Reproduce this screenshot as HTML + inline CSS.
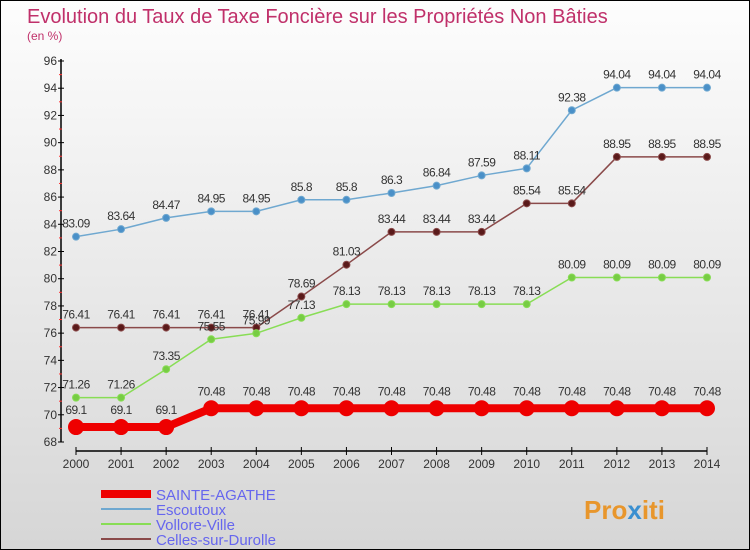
<!DOCTYPE html>
<html><head><meta charset="utf-8"><style>
body{margin:0}
#c{width:750px;height:550px;position:relative;box-sizing:border-box;border:1px solid #000;background:linear-gradient(#fdfdfd,#d6d6d6);font-family:"Liberation Sans",sans-serif;overflow:hidden}
</style></head><body>
<div id="c">
<svg id="s" width="750" height="550" style="position:absolute;left:0;top:0">
<text x="26" y="22" font-size="20" fill="#c0306a">Evolution du Taux de Taxe Foncière sur les Propriétés Non Bâties</text>
<text x="26" y="39" font-size="12" fill="#c0306a">(en %)</text>
<g id="axes"></g><g id="series"></g>
<g>
<line x1="100" y1="493" x2="150" y2="493" stroke="#e00" stroke-width="8"/>
<text x="155" y="499" font-size="15" fill="#6666ee">SAINTE-AGATHE</text>
<line x1="100" y1="508" x2="150" y2="508" stroke="#6fa8d0" stroke-width="2"/>
<text x="155" y="514" font-size="15" fill="#6666ee">Escoutoux</text>
<line x1="100" y1="523" x2="150" y2="523" stroke="#88dd55" stroke-width="2"/>
<text x="155" y="529" font-size="15" fill="#6666ee">Vollore-Ville</text>
<line x1="100" y1="538" x2="150" y2="538" stroke="#8a4a4a" stroke-width="2"/>
<text x="155" y="544" font-size="15" fill="#6666ee">Celles-sur-Durolle</text>
</g>
<text x="583" y="518" font-size="26" font-weight="bold" fill="#e8962c">Pro<tspan fill="#3a8fd0">x</tspan>iti</text>
</svg>
</div>
<script>
const years=[2000,2001,2002,2003,2004,2005,2006,2007,2008,2009,2010,2011,2012,2013,2014];
const yTicks=[68,70,72,74,76,78,80,82,84,86,88,90,92,94,96];
const sainteAgathe=[69.1,69.1,69.1,70.48,70.48,70.48,70.48,70.48,70.48,70.48,70.48,70.48,70.48,70.48,70.48];
const escoutoux=[83.09,83.64,84.47,84.95,84.95,85.8,85.8,86.3,86.84,87.59,88.11,92.38,94.04,94.04,94.04];
const vollore=[71.26,71.26,73.35,75.55,75.99,77.13,78.13,78.13,78.13,78.13,78.13,80.09,80.09,80.09,80.09];
const celles=[76.41,76.41,76.41,76.41,76.41,78.69,81.03,83.44,83.44,83.44,85.54,85.54,88.95,88.95,88.95];
const NS="http://www.w3.org/2000/svg";
const xS=i=>75+i*(706-75)/14;
const yS=v=>441-(v-68)*(441-60)/28;
function mk(t,a,p){const e=document.createElementNS(NS,t);for(const k in a)e.setAttribute(k,a[k]);p.appendChild(e);return e;}
const ax=document.getElementById('axes');
let l=mk('line',{x1:60,y1:58,x2:60,y2:441,stroke:'#000','stroke-width':1.5},ax);


l=mk('line',{x1:75,y1:450,x2:706,y2:450,stroke:'#000','stroke-width':1.5},ax);


yTicks.forEach(v=>{
 mk('line',{x1:57,y1:yS(v),x2:63,y2:yS(v),stroke:'#000'},ax);
 if(v<96)mk('line',{x1:58,y1:yS(v+1),x2:61,y2:yS(v+1),stroke:'#f33'},ax);
 const t=mk('text',{x:56,y:yS(v)+4,'font-size':12,fill:'#333','text-anchor':'end'},ax);t.textContent=v;
 
 
});
years.forEach((y,i)=>{
 mk('line',{x1:xS(i),y1:446,x2:xS(i),y2:454,stroke:'#000'},ax);
 const t=mk('text',{x:xS(i),y:467,'font-size':12,fill:'#333','text-anchor':'middle'},ax);t.textContent=y;
 
 
});
const sg=document.getElementById('series');
function draw(vals,color,w,r,name,dot){
 const g=mk('g',{},sg);
 
 
 mk('polyline',{points:vals.map((v,i)=>xS(i)+','+yS(v)).join(' '),fill:'none',stroke:color,'stroke-width':w},g);
 vals.forEach((v,i)=>{
  const c=mk('circle',{cx:xS(i),cy:yS(v),r:r,fill:dot,stroke:color,'stroke-width':1},g);
  
  
  const t=mk('text',{x:xS(i),y:yS(v)-9-(r>5?4:0),'font-size':12,fill:'#333','text-anchor':'middle','letter-spacing':'-0.5'},g);
  t.textContent=v;
  
  
 });
}
draw(escoutoux,'#6fa8d0',1.5,3.5,'escoutoux','#4a90c8');
draw(celles,'#8a4a4a',1.5,3.5,'celles-sur-durolle','#5a1a1a');
draw(vollore,'#88dd55',1.5,3.5,'vollore-ville','#77cc44');
draw(sainteAgathe,'#e00',8,7.5,'sainte-agathe','#e00');
</script>
</body></html>
